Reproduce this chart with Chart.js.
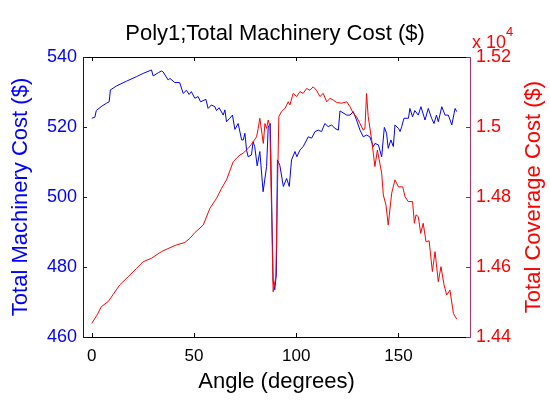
<!DOCTYPE html>
<html>
<head>
<meta charset="utf-8">
<script src="https://cdn.jsdelivr.net/npm/chart.js@4.4.1/dist/chart.umd.min.js"></script>
<style>
  html, body { margin: 0; padding: 0; background: #fff; }
  #wrap { width: 550px; height: 402px; }
</style>
</head>
<body>
<div id="wrap"><canvas id="chart" width="550" height="402"></canvas></div>
<script>
const xTicks = [0, 50, 100, 150];
const leftTicks = [460, 480, 500, 520, 540];
const rightTicks = [14400, 14600, 14800, 15000, 15200];
const rightTickLabels = ["1.44", "1.46", "1.48", "1.5", "1.52"];

const machineryAngles = [
  0, 1.5, 2.2, 5, 7.2, 8.5, 9.1, 12, 17, 21.9, 25.1, 28.4, 29.2, 30, 32.5, 34, 34.8,
  37.4, 38.2, 40.6, 43, 44.7, 46.3, 47.6, 48.7, 50.4, 52, 53.2, 55.8, 56.9, 58.5, 60.2,
  61, 62.3, 64.3, 65.1, 65.9, 67.5, 68.8, 70, 71.6, 73.3, 74.1, 74.9, 75.7, 76.5, 78.1,
  78.9, 79.7, 80.9, 82.2, 83.8, 85.5, 86.3, 87.3, 88.7, 89.5, 90.3, 90.8, 92, 93.7, 95.3,
  96.6, 97.7, 99.4, 100.3, 101.8, 103.4, 105.9, 107.5, 109.2, 110.8, 112.4, 114, 115.6,
  117.3, 118.9, 120.6, 121.4, 124.7, 126.3, 127.9, 129.5, 131.2, 132.8, 134.4, 136,
  137.7, 138.5, 140.2, 141.8, 143.1, 144.2, 145, 146.3, 147.5, 148.3, 150, 150.8, 151.6,
  152.7, 154.9, 155.6, 156.9, 158, 159.7, 161, 163, 164.6, 166.2, 167.4, 168.6, 169.5,
  171.2, 172.8, 174.4, 176.1, 177.7, 178.5
];
const machineryCost = [
  522.5, 522.8, 524.7, 526, 526.8, 527.2, 530.6, 531.7, 533.1, 534.4, 535.3, 536.1, 536.3, 534.6, 535.5, 536, 535.8,
  533.4, 533.9, 532.7, 532.7, 529.6, 530.5, 529.3, 530.1, 528.2, 528.7, 527.2, 527.9, 525.3, 526.3, 525.8,
  524.7, 525.5, 523.4, 524.9, 521.5, 522.5, 523.4, 519.3, 521, 516.3, 516.3, 518.2, 513.4, 511.5, 512,
  515.8, 514.4, 508.9, 513, 501.5, 508.7, 520, 521, 476, 473.5, 478, 510.6, 509, 503, 505.3,
  503, 510.6, 513, 511.5, 513.4, 514.4, 517.2, 516.8, 518.7, 519.1, 518.7, 521, 520.1,
  520.6, 519.6, 519.1, 524.6, 523.4, 523.4, 524.4, 522, 519.1, 517.2, 517.7, 517.2,
  514.4, 515.3, 514.9, 511.5, 519.9, 518.2, 513.9, 516.3, 514.4, 520.6, 519.6, 518.7, 520.1,
  522.5, 522.5, 525.3, 522.9, 524.7, 523.4, 525.8, 522, 525.3, 522.5, 521, 523.4, 521.5,
  525.8, 523.4, 523.4, 520.6, 525.3, 524.4
];

const coverageAngles = [
  0, 2.5, 4.7, 8, 10.5, 13.7, 17.8, 21.9, 25.1, 29.2, 34.1, 38.2, 41.4, 45.5, 48, 50.4,
  54.5, 57.8, 61, 63.5, 65.9, 69.2, 72.4, 74, 76.5, 78, 80.6, 81.4, 82.2, 83.9, 84.7,
  85.5, 86.3, 87.1, 87.9, 88.7, 90, 91.5, 92.8, 94.5, 96.1, 96.9, 98.5, 100.2, 101.8,
  103.4, 105.1, 106.7, 108.3, 109.9, 111.6, 113.2, 114.9, 116.5, 118.1, 119.8, 122.2,
  124.7, 126.3, 127.9, 129.5, 131.2, 132.8, 133.6, 134.4, 135.2, 136.9, 138.5, 139.7,
  141.8, 142.6, 143.9, 145, 146.7, 148.3, 150, 152.1, 153.2, 154.8, 156.9, 157.8, 158.6,
  159.7, 160.9, 162.1, 163.5, 165, 166.6, 167.9, 169.5, 170.8, 172.3, 173.6, 175.2,
  176.9, 178.5
];
const coverageCost = [
  14439, 14462, 14487, 14501, 14522, 14549, 14572, 14596, 14615, 14625, 14644, 14655, 14663, 14670, 14682, 14698,
  14720, 14768, 14796, 14825, 14849, 14901, 14920, 14925, 14939, 14950, 14972, 14996, 15025, 14953, 15010,
  14996, 15020, 15001, 14772, 14529, 14572, 15030, 15044, 15053, 15072, 15063, 15096, 15087, 15101,
  15096, 15110, 15105, 15115, 15105, 15087, 15096, 15072, 15082, 15077, 15070, 15068,
  15072, 15058, 15039, 15029, 15010, 14991, 14995, 15096, 15030, 14963, 14887, 14934,
  14868, 14806, 14777, 14720, 14811, 14849, 14829, 14829, 14801, 14787, 14787, 14725, 14749,
  14744, 14696, 14725, 14672, 14675, 14587, 14644, 14558, 14601, 14549, 14520, 14534,
  14467, 14451
];

const BLUE = "#0000ff";
const RED = "#ff0000";
const FONT = "'Liberation Sans', Arial, Helvetica, sans-serif";

Chart.defaults.font.family = FONT;

function toPoints(xs, ys) {
  return xs.map((x, i) => ({ x, y: ys[i] }));
}

// inward tick marks, top frame edge, right label and exponent
const matlabFrame = {
  id: "matlabFrame",
  afterDraw(chart) {
    const { ctx, chartArea, scales } = chart;
    const { left, right, top, bottom } = chartArea;
    const tickLen = 4;

    function seg(x1, y1, x2, y2, color) {
      ctx.strokeStyle = color;
      ctx.beginPath();
      ctx.moveTo(x1, y1);
      ctx.lineTo(x2, y2);
      ctx.stroke();
    }

    ctx.save();
    ctx.lineWidth = 1;
    seg(left, Math.round(top) + 0.5, right, Math.round(top) + 0.5, "#000");

    scales.x.ticks.forEach((t) => {
      const px = Math.round(scales.x.getPixelForValue(t.value)) + 0.5;
      seg(px, bottom, px, bottom - tickLen, "#000");
      seg(px, top, px, top + tickLen, "#000");
    });
    scales.y.ticks.forEach((t) => {
      const py = Math.round(scales.y.getPixelForValue(t.value)) + 0.5;
      seg(left, py, left + tickLen, py, BLUE);
    });
    scales.y1.ticks.forEach((t) => {
      const py = Math.round(scales.y1.getPixelForValue(t.value)) + 0.5;
      seg(right, py, right - tickLen, py, RED);
    });

    ctx.fillStyle = RED;
    ctx.textBaseline = "alphabetic";
    ctx.textAlign = "left";
    ctx.font = `18px ${FONT}`;
    ctx.fillText("x 10", 472, 48);
    ctx.font = `13px ${FONT}`;
    ctx.fillText("4", 506, 36);

    ctx.translate(534, (top + bottom) / 2);
    ctx.rotate(-Math.PI / 2);
    ctx.font = `22px ${FONT}`;
    ctx.textAlign = "center";
    ctx.textBaseline = "middle";
    ctx.fillText("Total Coverage Cost ($)", 0, 0);
    ctx.restore();
  }
};

new Chart(document.getElementById("chart"), {
  type: "line",
  data: {
    datasets: [
      {
        label: "Total Machinery Cost ($)",
        data: toPoints(machineryAngles, machineryCost),
        yAxisID: "y",
        borderColor: BLUE,
        borderWidth: 1,
        pointRadius: 0,
        tension: 0,
        order: 1
      },
      {
        label: "Total Coverage Cost ($)",
        data: toPoints(coverageAngles, coverageCost),
        yAxisID: "y1",
        borderColor: RED,
        borderWidth: 1,
        pointRadius: 0,
        tension: 0,
        order: 0
      }
    ]
  },
  options: {
    responsive: false,
    animation: false,
    events: [],
    layout: { padding: 0 },
    plugins: {
      legend: { display: false },
      tooltip: { enabled: false },
      title: {
        display: true,
        text: "Poly1;Total Machinery Cost ($)",
        color: "#000",
        font: { size: 22, weight: "normal" },
        padding: { top: 21, bottom: 9.6 }
      }
    },
    scales: {
      x: {
        type: "linear",
        min: -4.3,
        max: 185,
        afterFit(scale) { scale.height = 65; },
        afterBuildTicks(scale) { scale.ticks = xTicks.map((value) => ({ value })); },
        grid: { display: false, drawTicks: false },
        border: { display: true, color: "#000", width: 1 },
        ticks: { color: "#000", font: { size: 17 }, padding: 9, maxRotation: 0 },
        title: {
          display: true,
          text: "Angle (degrees)",
          color: "#000",
          font: { size: 22 },
          padding: { top: 0, bottom: 6.8 }
        }
      },
      y: {
        type: "linear",
        position: "left",
        min: 460,
        max: 540,
        afterFit(scale) { scale.width = 83; },
        afterBuildTicks(scale) { scale.ticks = leftTicks.map((value) => ({ value })); },
        grid: { display: false, drawTicks: false },
        border: { display: true, color: BLUE, width: 1 },
        ticks: { color: BLUE, font: { size: 18 }, padding: 6 },
        title: {
          display: true,
          text: "Total Machinery Cost ($)",
          color: BLUE,
          font: { size: 22 },
          padding: { top: 8, bottom: 0 }
        }
      },
      y1: {
        type: "linear",
        position: "right",
        min: 14400,
        max: 15200,
        afterFit(scale) { scale.width = 80; },
        afterBuildTicks(scale) { scale.ticks = rightTicks.map((value) => ({ value })); },
        grid: { display: false, drawTicks: false },
        border: { display: true, color: "#b03070", width: 1 },
        ticks: {
          color: RED,
          font: { size: 18 },
          padding: 6,
          callback(value, index) { return rightTickLabels[index]; }
        }
      }
    }
  },
  plugins: [matlabFrame]
});
</script>
</body>
</html>
